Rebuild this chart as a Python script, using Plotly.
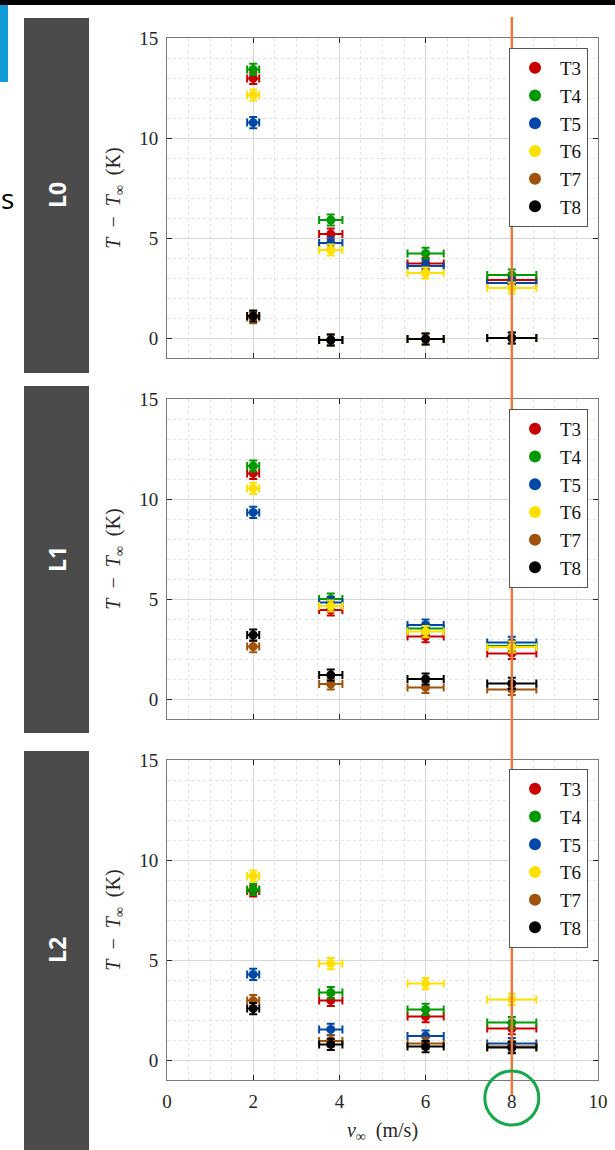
import plotly.graph_objects as go

W, H = 615, 1150

# ---------------- data ----------------
v = [2, 3.8, 6, 8]
v_err = [0.14, 0.27, 0.42, 0.57]
dT_err = [0.28, 0.28, 0.28, 0.28]
sensors = ["T3", "T4", "T5", "T6", "T7", "T8"]
panel_names = ["L0", "L1", "L2"]

L0_T3 = [12.98, 5.2, 3.72, 2.9]
L0_T4 = [13.43, 5.9, 4.23, 3.15]
L0_T5 = [10.77, 4.75, 3.6, 2.75]
L0_T6 = [12.15, 4.4, 3.25, 2.5]
L0_T7 = [1.02, -0.1, -0.05, 0.0]
L0_T8 = [1.1, -0.1, -0.05, 0.0]

L1_T3 = [11.28, 4.45, 3.12, 2.28]
L1_T4 = [11.65, 5.0, 3.53, 2.65]
L1_T5 = [9.33, 4.82, 3.7, 2.83]
L1_T6 = [10.53, 4.65, 3.37, 2.6]
L1_T7 = [2.62, 0.75, 0.58, 0.48]
L1_T8 = [3.2, 1.2, 1.0, 0.78]

L2_T3 = [8.45, 2.98, 2.17, 1.57]
L2_T4 = [8.53, 3.37, 2.53, 1.87]
L2_T5 = [4.28, 1.53, 1.2, 0.82]
L2_T6 = [9.2, 4.82, 3.82, 3.03]
L2_T7 = [2.97, 0.95, 0.83, 0.67]
L2_T8 = [2.57, 0.78, 0.67, 0.62]

panels = [
    [L0_T3, L0_T4, L0_T5, L0_T6, L0_T7, L0_T8],
    [L1_T3, L1_T4, L1_T5, L1_T6, L1_T7, L1_T8],
    [L2_T3, L2_T4, L2_T5, L2_T6, L2_T7, L2_T8],
]

x_ticks = [0, 2, 4, 6, 8, 10]
y_ticks = [0, 5, 10, 15]

# ---------------- style ----------------
colors = ["#c80000", "#009a00", "#0048a8", "#ffe000", "#a0520a", "#000000"]
serif = "Liberation Serif, DejaVu Serif, Times New Roman, serif"
sans = "Open Sans, Noto Sans, sans-serif"

def px_x(p):
    return p / W

def px_y(p):
    return 1 - p / H

plot_left, plot_right = 167, 598
panel_px = [(38, 358), (399, 719), (760, 1080)]
legend_top = [48, 409, 769]
box_px = [(18, 373), (386, 733), (751, 1150)]

fig = go.Figure()

for pi, series in enumerate(panels):
    ax = "" if pi == 0 else str(pi + 1)
    leg = "legend" if pi == 0 else f"legend{pi + 1}"
    for si, vals in enumerate(series):
        fig.add_trace(go.Scatter(
            x=v, y=vals, mode="markers", name=sensors[si],
            xaxis="x" + ax, yaxis="y" + ax, legend=leg,
            marker=dict(color=colors[si], size=9, symbol="circle"),
            error_x=dict(type="data", array=v_err, color=colors[si],
                         thickness=2, width=4),
            error_y=dict(type="data", array=dT_err, color=colors[si],
                         thickness=2, width=4),
            showlegend=True,
        ))

layout = dict(
    width=W, height=H,
    margin=dict(l=0, r=0, t=0, b=0, autoexpand=False),
    paper_bgcolor="white", plot_bgcolor="white",
    showlegend=True,
    font=dict(family=serif, size=18, color="#262626"),
)

axis_common = dict(
    showline=True, linecolor="#7a7a7a", linewidth=1, mirror="ticks",
    ticks="inside", ticklen=5, tickcolor="#262626", tickwidth=1,
    showgrid=True, gridcolor="#d6d6d6", gridwidth=1, zeroline=False,
    automargin=False,
    tickfont=dict(family=serif, size=19, color="#262626"),
)

for pi in range(3):
    ax = "" if pi == 0 else str(pi + 1)
    top, bot = panel_px[pi]
    xa = dict(axis_common)
    xa.update(
        domain=[px_x(plot_left), px_x(plot_right)],
        range=[0, 10], tickvals=x_ticks,
        anchor="y" + ax,
        minor=dict(dtick=0.5, tick0=0, showgrid=True, gridcolor="#e3e3e3",
                   griddash="dot", ticklen=0),
        showticklabels=(pi == 2),
    )
    if pi == 2:
        xa["title"] = dict(text="<i>v</i><sub>∞</sub>  (m/s)",
                           font=dict(family=serif, size=20, color="#262626"),
                           standoff=12)
        xa["ticklabelstandoff"] = 4
    ya = dict(axis_common)
    ya.update(
        domain=[px_y(bot), px_y(top)],
        range=[-1, 15], tickvals=y_ticks,
        anchor="x" + ax,
        minor=dict(dtick=1, tick0=0, showgrid=True, gridcolor="#e3e3e3",
                   griddash="dot", ticklen=0),
        title=dict(text="<i>T</i>  −  <i>T</i><sub>∞</sub>  (K)",
                   font=dict(family=serif, size=20, color="#262626"),
                   standoff=13),
        ticklabelstandoff=4,
    )
    layout["xaxis" + ax] = xa
    layout["yaxis" + ax] = ya
    leg = "legend" if pi == 0 else f"legend{pi + 1}"
    layout[leg] = dict(
        x=px_x(509), y=px_y(legend_top[pi]), xanchor="left", yanchor="top",
        bgcolor="white", bordercolor="#555555", borderwidth=1,
        font=dict(family=serif, size=19, color="#111111"),
        itemsizing="constant", tracegroupgap=0, itemwidth=40,
    )

fig.update_layout(**layout)

shapes = []
annotations = []
# top black line
shapes.append(dict(type="rect", xref="paper", yref="paper", x0=0, x1=1,
                   y0=px_y(5), y1=1, fillcolor="black", line=dict(width=0),
                   layer="above"))
# blue tab
shapes.append(dict(type="rect", xref="paper", yref="paper", x0=0, x1=px_x(8),
                   y0=px_y(82), y1=px_y(5), fillcolor="#0e9bd8",
                   line=dict(width=0), layer="above"))
# dark side boxes with labels (centred in each box)
for pi in range(3):
    t, b = box_px[pi]
    shapes.append(dict(type="rect", xref="paper", yref="paper",
                       x0=px_x(24), x1=px_x(89), y0=px_y(b), y1=px_y(t),
                       fillcolor="#4b4b4b", line=dict(width=0), layer="above"))
    annotations.append(dict(text="<b>" + panel_names[pi] + "</b>",
                            xref="paper", yref="paper",
                            x=px_x(56.5), y=px_y((t + b) / 2),
                            xanchor="center", yanchor="middle",
                            showarrow=False, textangle=-90,
                            font=dict(family=sans, size=23, color="white")))
# "s" fragment at the left edge
annotations.append(dict(text="s", xref="paper", yref="paper", x=0,
                        y=px_y(198), xanchor="left", yanchor="middle",
                        showarrow=False, borderpad=0,
                        font=dict(family=sans, size=28, color="black")))
# orange vertical line at v = 8
shapes.append(dict(type="line", xref="x3", yref="paper", x0=8, x1=8,
                   y0=px_y(1095), y1=px_y(17),
                   line=dict(color="#ea7a3c", width=2.5), layer="above"))
# green circle around tick 8
r_data = 27 / ((plot_right - plot_left) / 10)
shapes.append(dict(type="circle", xref="x3", yref="paper",
                   x0=8 - r_data, x1=8 + r_data,
                   y0=px_y(1098 + 27), y1=px_y(1098 - 27),
                   line=dict(color="#16a84a", width=3), layer="above"))

fig.update_layout(shapes=shapes, annotations=annotations)

fig.write_html(
    "out.html",
    config={"displayModeBar": False},
    post_script="document.body.style.margin='0';document.body.style.overflow='hidden';",
)
